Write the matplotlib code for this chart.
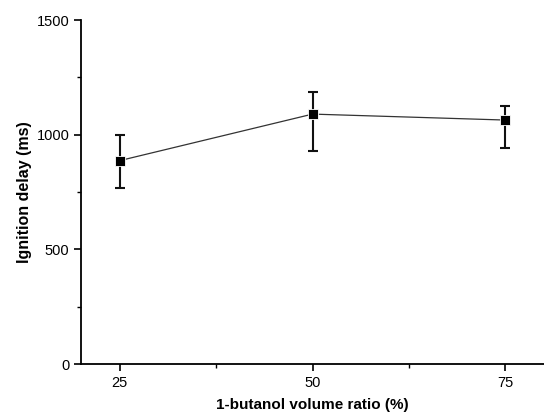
import matplotlib
matplotlib.use("Agg")
import matplotlib.pyplot as plt
from matplotlib.ticker import MultipleLocator

plt.rcParams['font.family'] = ['Liberation Sans', 'DejaVu Sans']

# butanol ratio (%) and ignition delay (ms), error bars
ratio = [25, 50, 75]
delay = [887, 1090, 1064]
err_low = [121, 160, 122]
err_high = [111, 97, 61]

fig = plt.figure(figsize=(5.44, 4.18), dpi=100)
ax = fig.add_axes([0.149, 0.129, 0.851, 0.823])

ax.plot(ratio, delay, color='#333333', lw=0.9, zorder=2)
ax.errorbar(ratio, delay, yerr=[err_low, err_high], fmt='none', ecolor='#111111',
            elinewidth=1.5, capsize=3.4, capthick=1.5, zorder=3)
ax.plot(ratio, delay, 's', color='black', ms=7, mec='white', mew=0.6, zorder=4)

ax.set_xlim(20, 80)
ax.set_ylim(0, 1500)
ax.xaxis.set_major_locator(MultipleLocator(25))
ax.xaxis.set_minor_locator(MultipleLocator(12.5))
ax.yaxis.set_major_locator(MultipleLocator(500))
ax.yaxis.set_minor_locator(MultipleLocator(250))

for s in ['top', 'right']:
    ax.spines[s].set_visible(False)
for s in ['left', 'bottom']:
    ax.spines[s].set_linewidth(1.3)

ax.tick_params(which='major', direction='out', length=5, width=1.2, labelsize=10.5)
ax.tick_params(which='minor', direction='out', length=2.6, width=1.0)

ax.set_xlabel("1-butanol volume ratio (%)", fontsize=11, fontweight='bold', labelpad=6)
ax.set_ylabel("Ignition delay (ms)", fontsize=11.5, fontweight='bold', labelpad=3)

plt.savefig("out.png", dpi=100)
